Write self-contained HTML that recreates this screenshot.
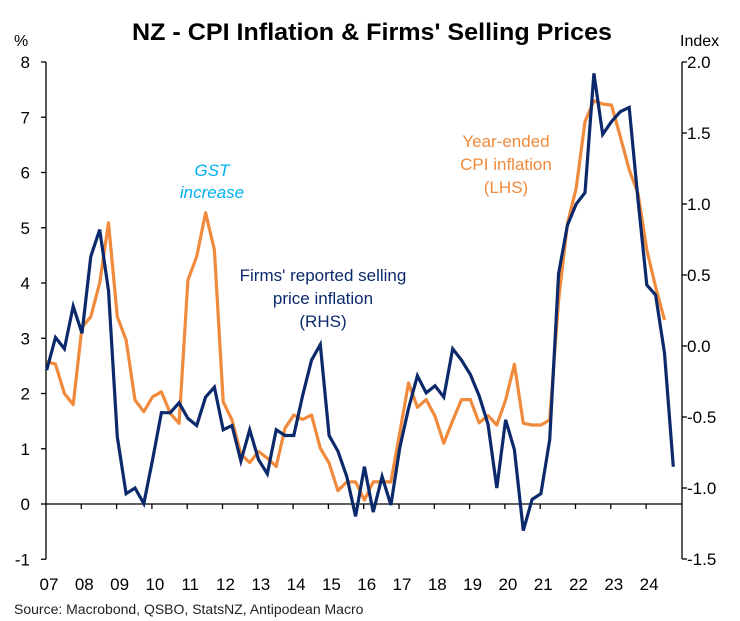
<!DOCTYPE html>
<html><head><meta charset="utf-8"><style>
body{margin:0;background:#fff;}
svg{display:block;font-family:"Liberation Sans",sans-serif;}
</style></head><body>
<svg id="chart" width="740" height="621">
<text x="372" y="40" text-anchor="middle" font-size="24" font-weight="bold" fill="#000" textLength="480" lengthAdjust="spacingAndGlyphs">NZ - CPI Inflation &amp; Firms' Selling Prices</text>
<text x="14" y="46" font-size="16" fill="#000">%</text>
<text x="680" y="46" font-size="16" fill="#000">Index</text>
<g id="axes"></g>
<g id="series"></g>
<text x="212" y="176" text-anchor="middle" font-size="17" font-style="italic" fill="#00B0F0"><tspan x="212">GST</tspan><tspan x="212" dy="22">increase</tspan></text>
<text x="323" y="281" text-anchor="middle" font-size="17" fill="#0C2A6B"><tspan x="323">Firms' reported selling</tspan><tspan x="323" dy="23">price inflation</tspan><tspan x="323" dy="23">(RHS)</tspan></text>
<text x="506" y="147" text-anchor="middle" font-size="17" fill="#F08A3C"><tspan x="506">Year-ended</tspan><tspan x="506" dy="23">CPI inflation</tspan><tspan x="506" dy="23">(LHS)</tspan></text>
<text x="14" y="614" font-size="14" fill="#222">Source: Macrobond, QSBO, StatsNZ, Antipodean Macro</text>
</svg>
<script>
const yearLabels = ["07","08","09","10","11","12","13","14","15","16","17","18","19","20","21","22","23","24"];
const leftTicks = [-1,0,1,2,3,4,5,6,7,8];
const rightTicks = [-1.5,-1.0,-0.5,0.0,0.5,1.0,1.5,2.0];
const cpi = [2.58,2.53,2.0,1.8,3.2,3.39,4.0,5.09,3.39,2.97,1.88,1.67,1.94,2.03,1.64,1.46,4.05,4.48,5.27,4.6,1.85,1.52,0.9,0.75,0.95,0.83,0.68,1.37,1.61,1.53,1.61,1.01,0.74,0.24,0.40,0.40,0.07,0.40,0.40,0.40,1.28,2.19,1.75,1.89,1.59,1.10,1.51,1.89,1.89,1.47,1.6,1.43,1.88,2.53,1.46,1.43,1.43,1.52,3.69,5.07,5.72,6.92,7.30,7.24,7.22,6.65,6.05,5.62,4.60,3.93,3.33];
const firms = [-0.17,0.06,-0.02,0.28,0.09,0.63,0.82,0.39,-0.64,-1.04,-1.0,-1.11,-0.80,-0.47,-0.47,-0.40,-0.51,-0.56,-0.36,-0.29,-0.59,-0.56,-0.81,-0.59,-0.80,-0.90,-0.59,-0.63,-0.63,-0.35,-0.10,0.01,-0.63,-0.74,-0.92,-1.20,-0.85,-1.17,-0.92,-1.12,-0.72,-0.44,-0.21,-0.33,-0.28,-0.36,-0.02,-0.10,-0.20,-0.35,-0.55,-1.0,-0.52,-0.73,-1.30,-1.08,-1.04,-0.66,0.51,0.85,1.00,1.08,1.92,1.49,1.58,1.65,1.68,1.03,0.43,0.36,-0.05,-0.85];

const NS="http://www.w3.org/2000/svg";
const X0=46, YW=35.3, LX=46, RX=682;
function xS(t){return X0+t*YW;}
function yL(v){return 504-v*55.25;}
function yR(v){return 346-v*142;}
function mk(tag,attrs,parent){const e=document.createElementNS(NS,tag);for(const k in attrs)e.setAttribute(k,attrs[k]);parent.appendChild(e);return e;}
const ax=document.getElementById('axes');
let e;
e=mk('line',{x1:LX,y1:yL(8),x2:LX,y2:yL(-1),stroke:'#000','stroke-width':1.3},ax);


e=mk('line',{x1:RX,y1:yR(2),x2:RX,y2:yR(-1.5),stroke:'#000','stroke-width':1.3},ax);


e=mk('line',{x1:LX,y1:yL(0),x2:RX,y2:yL(0),stroke:'#000','stroke-width':1.3},ax);


leftTicks.forEach(v=>{
  mk('line',{x1:LX-5,y1:yL(v),x2:LX,y2:yL(v),stroke:'#000','stroke-width':1.3},ax);
  e=mk('text',{x:30,y:yL(v)+6,'text-anchor':'end','font-size':17,fill:'#000'},ax);
  e.textContent=v;
  
  
});
rightTicks.forEach(v=>{
  mk('line',{x1:RX,y1:yR(v),x2:RX+5,y2:yR(v),stroke:'#000','stroke-width':1.3},ax);
  e=mk('text',{x:RX+5,y:yR(v)+6,'font-size':17,fill:'#000'},ax);
  e.textContent=v.toFixed(1);
  
  
});
yearLabels.forEach((l,i)=>{
  if(i>0) mk('line',{x1:xS(i),y1:yL(0),x2:xS(i),y2:yL(0)+5,stroke:'#000','stroke-width':1.3},ax);
  e=mk('text',{x:xS(i)+3,y:590,'text-anchor':'middle','font-size':17,fill:'#000'},ax);
  e.textContent=l;
  
  
});
const sg=document.getElementById('series');
function path(vals,ys){return vals.map((v,i)=>(i?'L':'M')+xS(i/4+0.02).toFixed(1)+' '+ys(v).toFixed(1)).join(' ');}
e=mk('path',{d:path(cpi,yL),fill:'none',stroke:'#F08A3C','stroke-width':3.2,'stroke-linejoin':'round'},sg);


e=mk('path',{d:path(firms,yR),fill:'none',stroke:'#0C2A6B','stroke-width':3.2,'stroke-linejoin':'miter'},sg);


</script>
</body></html>
